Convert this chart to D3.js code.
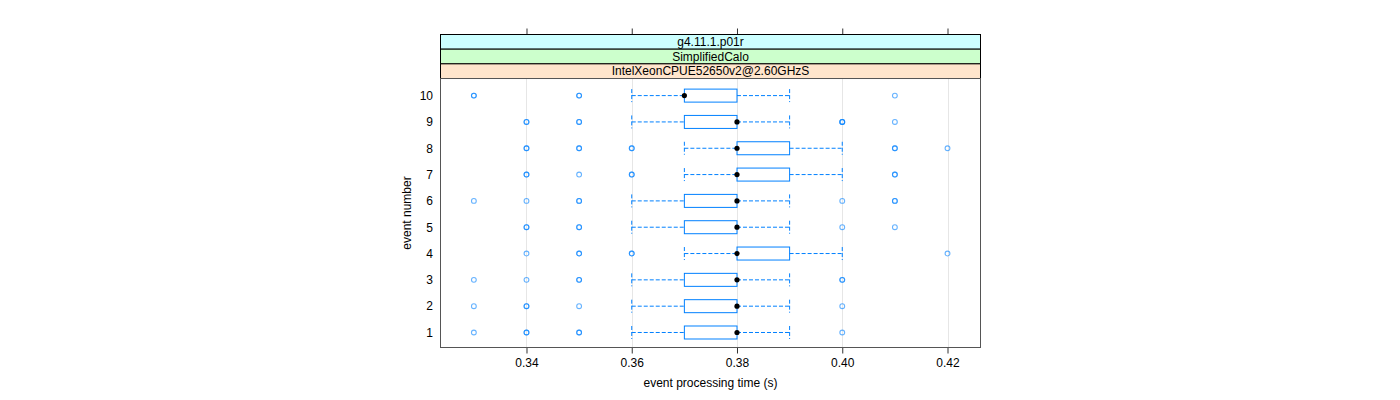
<!DOCTYPE html>
<html><head><meta charset="utf-8">
<script src="https://cdn.jsdelivr.net/npm/d3@7"></script>
<style>body{margin:0;background:#fff}svg{display:block}text{font-family:"Liberation Sans",Arial,Helvetica,sans-serif}</style>
</head><body><svg id="c" width="1400" height="400"></svg>
<script>
// ---- data ----
const events   = [1,2,3,4,5,6,7,8,9,10];
const whiskLo  = [0.36,0.36,0.36,0.37,0.36,0.36,0.37,0.37,0.36,0.36];
const q1       = [0.37,0.37,0.37,0.38,0.37,0.37,0.38,0.38,0.37,0.37];
const medians  = [0.38,0.38,0.38,0.38,0.38,0.38,0.38,0.38,0.38,0.37];
const q3       = [0.38,0.38,0.38,0.39,0.38,0.38,0.39,0.39,0.38,0.38];
const whiskHi  = [0.39,0.39,0.39,0.40,0.39,0.39,0.40,0.40,0.39,0.39];
const outEvent = [1,1,1,1, 2,2,2,2, 3,3,3,3, 4,4,4,4, 5,5,5,5, 6,6,6,6,6, 7,7,7,7, 8,8,8,8,8, 9,9,9,9, 10,10,10];
const outValue = [0.33,0.34,0.35,0.40, 0.33,0.34,0.35,0.40, 0.33,0.34,0.35,0.40, 0.34,0.35,0.36,0.42, 0.34,0.35,0.40,0.41, 0.33,0.34,0.35,0.40,0.41, 0.34,0.35,0.36,0.41, 0.34,0.35,0.36,0.41,0.42, 0.34,0.35,0.40,0.41, 0.33,0.35,0.41];
const outCount = [1,2,2,1, 1,2,1,1, 1,1,2,2, 1,2,2,1, 2,2,1,1, 1,1,2,1,2, 2,1,2,2, 2,2,2,2,1, 2,2,3,1, 2,2,1];
const xTicks   = [0.34,0.36,0.38,0.40,0.42];
const stripLabels = ["g4.11.1.p01r","SimplifiedCalo","IntelXeonCPUE52650v2@2.60GHzS"];
const stripColors = ["#ccffff","#ccffcc","#ffe5cc"];

// ---- layout ----
const svg = d3.select("#c");
const L = 440.5, R = 980.5, T = 78.5, B = 347.5;
const x = d3.scaleLinear().domain([0.32366,0.42627]).range([L,R]);
const y = d3.scaleLinear().domain([0.43,10.65]).range([B,T]);
const blue = "#0080ff";
const boxH = 13;

// grid
svg.append("g").selectAll("line").data(xTicks).join("line")
  .attr("x1",d=>Math.round(x(d))+0.5).attr("x2",d=>Math.round(x(d))+0.5)
  .attr("y1",T).attr("y2",B).attr("stroke","#e6e6e6").attr("stroke-width",1);

// bottom axis
const bx = svg.append("g").attr("transform",`translate(0,${B})`)
  .call(d3.axisBottom(x).tickValues(xTicks).tickFormat(d3.format(".2f")).tickSize(6).tickSizeOuter(0));
bx.select(".domain").remove();
bx.selectAll(".tick line").attr("stroke","#333");
bx.selectAll(".tick text").attr("font-size",12).attr("fill","#000").attr("dy","0.85em")
  .style("font-family",'"Liberation Sans",Arial,sans-serif');

// top axis ticks (above strips)
const stripTop = 34.5, stripH = 14.67;
const tx = svg.append("g").attr("transform",`translate(0,${stripTop})`)
  .call(d3.axisTop(x).tickValues(xTicks).tickFormat("").tickSize(6).tickSizeOuter(0));
tx.select(".domain").remove();
tx.selectAll(".tick line").attr("stroke","#333");

// strips
stripLabels.forEach((lab,i)=>{
  const y0 = stripTop + i*stripH;
  svg.append("rect").attr("x",L).attr("y",y0).attr("width",R-L).attr("height",stripH)
    .attr("fill",stripColors[i]).attr("stroke","#000").attr("stroke-width",1);
  svg.append("text").attr("x",(L+R)/2).attr("y",y0+stripH/2).attr("dy","0.36em")
    .attr("text-anchor","middle").attr("font-size",12).text(lab);
});

// y axis labels
svg.append("g").selectAll("text").data(events).join("text")
  .attr("x",433).attr("y",d=>y(d)).attr("dy","0.36em").attr("text-anchor","end")
  .attr("font-size",12).text(d=>d);

// boxes
const g = svg.append("g");
events.forEach((e,i)=>{
  const yc = y(e);
  // whiskers
  [[whiskLo[i],q1[i]],[q3[i],whiskHi[i]]].forEach(([a,b])=>{
    g.append("line").attr("x1",x(a)).attr("x2",x(b)).attr("y1",yc).attr("y2",yc)
      .attr("stroke",blue).attr("stroke-dasharray","4,2").attr("stroke-width",1);
  });
  [whiskLo[i],whiskHi[i]].forEach(v=>{
    g.append("line").attr("x1",x(v)).attr("x2",x(v)).attr("y1",yc-boxH/2).attr("y2",yc+boxH/2)
      .attr("stroke",blue).attr("stroke-dasharray","4,2").attr("stroke-width",1);
  });
  g.append("rect").attr("x",x(q1[i])).attr("y",yc-boxH/2).attr("width",x(q3[i])-x(q1[i])).attr("height",boxH)
    .attr("fill","none").attr("stroke",blue).attr("stroke-width",1);
  g.append("circle").attr("cx",x(medians[i])).attr("cy",yc).attr("r",2.6).attr("fill","#000");
});

// outliers
outEvent.forEach((e,i)=>{
  for(let k=0;k<outCount[i];k++){
    g.append("circle").attr("cx",x(outValue[i])).attr("cy",y(e)).attr("r",2.4)
      .attr("fill","none").attr("stroke",blue).attr("stroke-opacity",0.6).attr("stroke-width",1.1);
  }
});

// panel frame
svg.append("rect").attr("x",L).attr("y",T).attr("width",R-L).attr("height",B-T)
  .attr("fill","none").attr("stroke","#555").attr("stroke-width",1);

// titles
svg.append("text").attr("x",(L+R)/2).attr("y",387).attr("text-anchor","middle").attr("font-size",12)
  .text("event processing time (s)");
svg.append("text").attr("transform",`translate(412,${(T+B)/2}) rotate(-90)`).attr("dy","-0.1em").attr("text-anchor","middle")
  .attr("font-size",12).text("event number");
</script></body></html>
